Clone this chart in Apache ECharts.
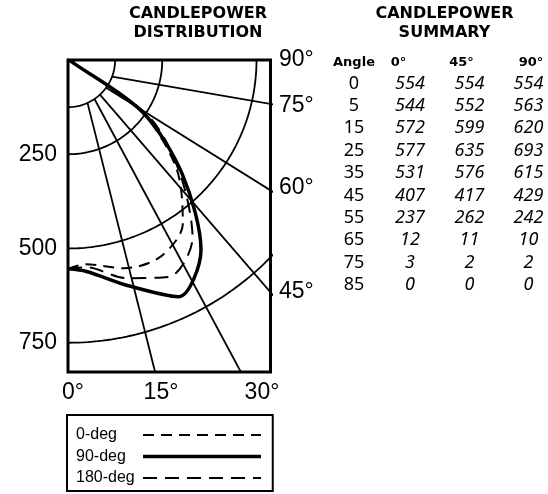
<!DOCTYPE html>
<html><head><meta charset="utf-8">
<script src="https://cdn.jsdelivr.net/npm/echarts@6/dist/echarts.min.js"></script>
<style>html,body{margin:0;padding:0;background:#fff}#c{width:548px;height:494px}</style>
</head><body><div id="c"></div>
<script>
// ---- data ----
const angles = [0, 5, 15, 25, 35, 45, 55, 65, 75, 85];
const cd0  = [554, 544, 572, 577, 531, 407, 237, 12, 3, 0];
const cd45 = [554, 552, 599, 635, 576, 417, 262, 11, 2, 0];
const cd90 = [554, 563, 620, 693, 615, 429, 242, 10, 2, 0];
const tableHeaders = ['Angle', '0°', '45°', '90°'];
const legendNames = ['0-deg', '90-deg', '180-deg'];
const radiusTicks = [250, 500, 750];
const arcRadii = [125, 250, 500, 750];
const rayAngles = [14.1, 28.2, 40.8, 58.0, 80.2];
const bottomAngleLabels = ['0°', '15°', '30°'];
const sideAngleLabels = ['90°', '75°', '60°', '45°'];
const titleLeft = ['CANDLEPOWER', 'DISTRIBUTION'];
const titleRight = ['CANDLEPOWER', 'SUMMARY'];

// ---- layout ----
const K = 0.377;                 // px per candela
const GL = 68, GT = 60, GW = 202.5, GH = 312;
const XMAX = GW / K, YMAX = GH / K;
const RAY_ORIGIN = [30.5, 29.2]; // in cd units
const INNER_R = arcRadii[0];
const rad = d => d * Math.PI / 180;
const polar = (a, r) => [r * Math.sin(rad(a)), r * Math.cos(rad(a))];

function arcData(r) {
  const pts = [];
  for (let a = 0; a <= 90; a += 1) pts.push(polar(a, r));
  return pts;
}
function rayData(a) {
  const d = [Math.sin(rad(a)), Math.cos(rad(a))];
  const o = RAY_ORIGIN;
  const b = o[0] * d[0] + o[1] * d[1];
  const c = o[0] * o[0] + o[1] * o[1] - INNER_R * INNER_R;
  const t0 = -b + Math.sqrt(b * b - c);
  const t1 = 2000;
  return [[o[0] + t0 * d[0], o[1] + t0 * d[1]], [o[0] + t1 * d[0], o[1] + t1 * d[1]]];
}
const curve = vals => angles.map((a, i) => polar(a, vals[i]));

const gridStyle = { color: '#000', width: 1.8 };
const series = [];
arcRadii.forEach(r => series.push({
  type: 'line', data: arcData(r), symbol: 'none', silent: true, clip: true,
  lineStyle: gridStyle, z: 1
}));
rayAngles.forEach(a => series.push({
  type: 'line', data: rayData(a), symbol: 'none', silent: true, clip: true,
  lineStyle: gridStyle, z: 1
}));
series.push({
  name: legendNames[0], type: 'line', data: curve(cd0), symbol: 'none', smooth: 0.3, clip: true,
  lineStyle: { color: '#000', width: 2, type: [11, 7] }, z: 3
});
series.push({
  name: legendNames[1], type: 'line', data: curve(cd90), symbol: 'none', smooth: 0.3, clip: true,
  lineStyle: { color: '#000', width: 3.5 }, z: 4
});
series.push({
  name: legendNames[2], type: 'line', data: curve(cd45), symbol: 'none', smooth: 0.3, clip: true,
  lineStyle: { color: '#000', width: 2, type: [14, 8] }, z: 3
});

// ---- texts ----
const graphics = [];
function txt(x, y, text, o) {
  graphics.push({
    type: 'text', x: x, y: y, silent: true,
    style: Object.assign({
      text: text, fill: '#000', align: 'center', verticalAlign: 'middle',
      fontFamily: 'Liberation Sans', fontSize: 23
    }, o || {})
  });
}
const bold = { fontFamily: 'DejaVu Sans', fontWeight: 'bold', fontSize: 16 };
titleLeft.forEach((t, i) => txt(198, 13.5 + i * 19, t, bold));
titleRight.forEach((t, i) => txt(444.5, 13.5 + i * 19, t, bold));

const bottomX = [73, 161, 262];
bottomAngleLabels.forEach((t, i) => txt(bottomX[i], 393, t));
const sideY = [60, 106, 188, 292];
sideAngleLabels.forEach((t, i) => txt(279, sideY[i], t, { align: 'left' }));

const colX = [354, 410, 469.5, 528.5];
const headX = [354, 398.5, 461.5, 531];
const hb = { fontFamily: 'DejaVu Sans', fontWeight: 'bold', fontSize: 13 };
tableHeaders.forEach((t, i) => txt(headX[i], 63, t, hb));
const cols = [cd0, cd45, cd90];
angles.forEach((a, r) => {
  const y = 83.5 + r * 22.4;
  txt(colX[0], y, String(a), { fontFamily: 'Noto Sans', fontSize: 18 });
  cols.forEach((col, c) => txt(colX[c + 1], y, String(col[r]), { fontFamily: 'Noto Sans', fontSize: 18, fontStyle: 'italic' }));
});

const chart = echarts.init(document.getElementById('c'), null, { renderer: 'canvas' });
chart.setOption({
  animation: false,
  backgroundColor: '#fff',
  grid: { left: GL, top: GT, width: GW, height: GH, show: true, borderColor: '#000', borderWidth: 3, containLabel: false },
  xAxis: { type: 'value', min: 0, max: XMAX, show: false },
  yAxis: {
    type: 'value', min: 0, max: YMAX, interval: 250, inverse: true,
    axisLine: { show: false }, axisTick: { show: false }, splitLine: { show: false },
    axisLabel: {
      margin: 11, color: '#000', fontSize: 23, fontFamily: 'Liberation Sans',
      showMaxLabel: false,
      formatter: v => radiusTicks.indexOf(v) >= 0 ? String(v) : ''
    }
  },
  legend: {
    data: legendNames, orient: 'vertical', left: 67, top: 415,
    align: 'right', itemWidth: 118, itemHeight: 14, itemGap: 5.5,
    padding: [12, 10, 5, 9], borderColor: '#000', borderWidth: 2,
    selectedMode: false,
    itemStyle: { opacity: 0 },
    lineStyle: { width: 'inherit' },
    formatter: '{a|{name}}',
    textStyle: {
      color: '#000', fontSize: 16, fontFamily: 'Liberation Sans',
      rich: { a: { width: 62, align: 'left', fontSize: 16, lineHeight: 20, fontFamily: 'Liberation Sans', color: '#000' } }
    }
  },
  series: series,
  graphic: graphics
});
</script></body></html>
